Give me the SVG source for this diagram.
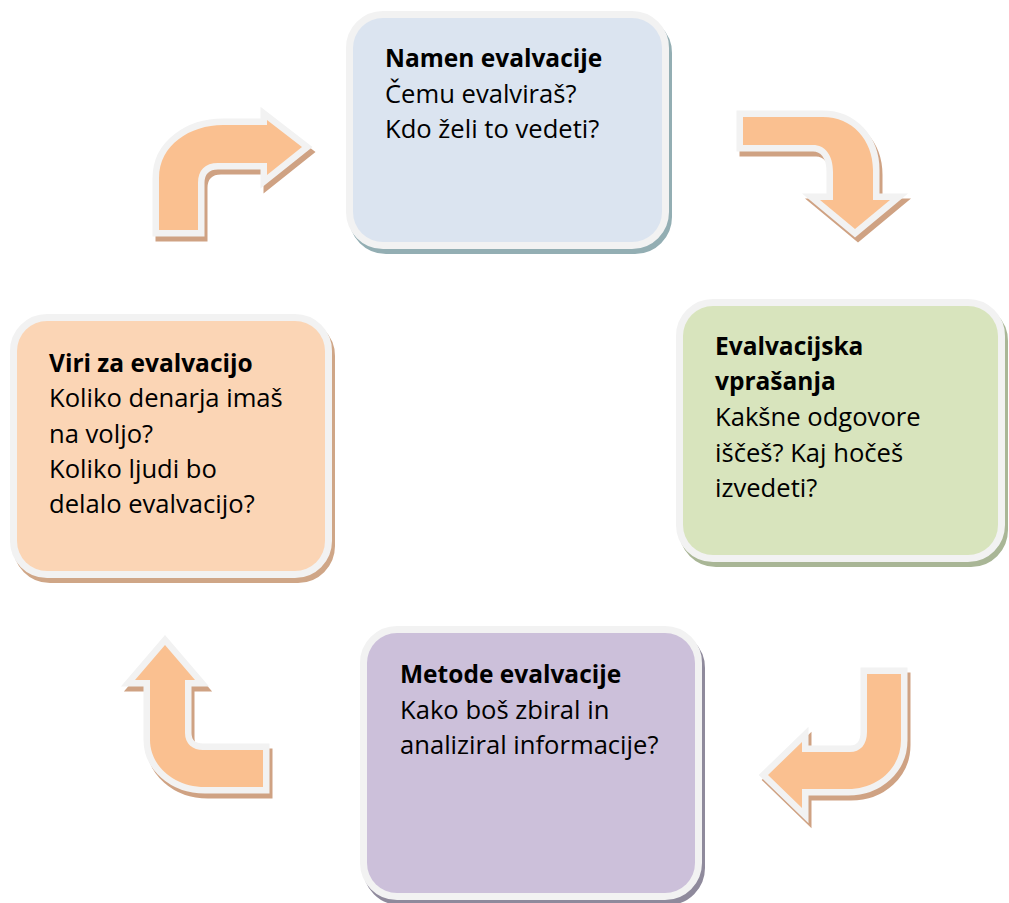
<svg xmlns="http://www.w3.org/2000/svg" width="1009" height="903" viewBox="0 0 1009 903">
<style>
.box{stroke:#f2f2f2;stroke-width:14;paint-order:stroke}
.sh{stroke-width:14}
.arr{fill:#fac090;stroke:#f2f2f2;stroke-width:13;stroke-linejoin:miter;stroke-miterlimit:4;paint-order:stroke}
.arrsh{fill:#cfa283;stroke:#cfa283;stroke-width:13;stroke-linejoin:miter;stroke-miterlimit:4}
text{font-family:"Open Sans","Noto Sans","Liberation Sans",sans-serif;font-size:25.6px;fill:#000}
.b{font-weight:bold;font-size:24.5px}
</style>
<defs>
<path id="a1" d="M159,230 L159,178 C159,145 190,125 223,125 L267,125 L267,120 L302,147 L267,175 L267,163 L218,163 C205,163 198,170 198,183 L198,230 Z"/>
<path id="a2" d="M743,117 L823,117 C852,117 873,140 873,170 L873,200 L890,200 L855,229 L820,200 L833,200 L833,172 C833,155 825,145 813,145 L743,145 Z"/>
<path id="a3" d="M867,674 L901,674 L901,740 C901,768 878,789 848,789 L802,789 L802,808 L768,775 L802,742 L802,752 L850,752 C860,752 867,745 867,732 Z"/>
<path id="a4" d="M263,750 L263,787 L205,787 C173,787 150,765 150,740 L150,680 L135,680 L165,645 L195,680 L185,680 L185,733 C185,744 193,750 203,750 Z"/>
</defs>
<rect width="1009" height="903" fill="#ffffff"/>
<g id="connectors">
<use href="#a1" class="arrsh" transform="translate(3,5)"/>
<use href="#a1" class="arr"/>
<use href="#a2" class="arrsh" transform="translate(3,5)"/>
<use href="#a2" class="arr"/>
<use href="#a3" class="arrsh" transform="translate(3,5)"/>
<use href="#a3" class="arr"/>
<use href="#a4" class="arrsh" transform="translate(3,5)"/>
<use href="#a4" class="arr"/>
</g>
<g id="namen">
<rect x="353" y="18" width="309" height="224" rx="30" fill="#93aeb3" stroke="#93aeb3" class="sh" transform="translate(3,5)"/>
<rect x="353" y="18" width="309" height="224" rx="30" fill="#dbe4f0" class="box"/>
<text x="385" y="67" class="b">Namen evalvacije</text>
<text x="385" y="103">Čemu evalviraš?</text>
<text x="385" y="138">Kdo želi to vedeti?</text>
</g>
<g id="vprasanja">
<rect x="683" y="306" width="315" height="249" rx="30" fill="#a9b696" stroke="#a9b696" class="sh" transform="translate(3,5)"/>
<rect x="683" y="306" width="315" height="249" rx="30" fill="#d8e4bd" class="box"/>
<text x="715" y="355" class="b">Evalvacijska</text>
<text x="715" y="390" class="b">vprašanja</text>
<text x="715" y="426">Kakšne odgovore</text>
<text x="715" y="462">iščeš? Kaj hočeš</text>
<text x="715" y="497">izvedeti?</text>
</g>
<g id="viri">
<rect x="17" y="321" width="308" height="250" rx="30" fill="#cfa687" stroke="#cfa687" class="sh" transform="translate(3,5)"/>
<rect x="17" y="321" width="308" height="250" rx="30" fill="#fbd5b5" class="box"/>
<text x="49" y="372" class="b">Viri za evalvacijo</text>
<text x="49" y="407">Koliko denarja imaš</text>
<text x="49" y="443">na voljo?</text>
<text x="49" y="478">Koliko ljudi bo</text>
<text x="49" y="513">delalo evalvacijo?</text>
</g>
<g id="metode">
<rect x="367" y="633" width="328" height="260" rx="30" fill="#8f8a9c" stroke="#8f8a9c" class="sh" transform="translate(3,5)"/>
<rect x="367" y="633" width="328" height="260" rx="30" fill="#ccc0da" class="box"/>
<text x="400" y="683" class="b">Metode evalvacije</text>
<text x="400" y="719">Kako boš zbiral in</text>
<text x="400" y="754">analiziral informacije?</text>
</g>
</svg>
